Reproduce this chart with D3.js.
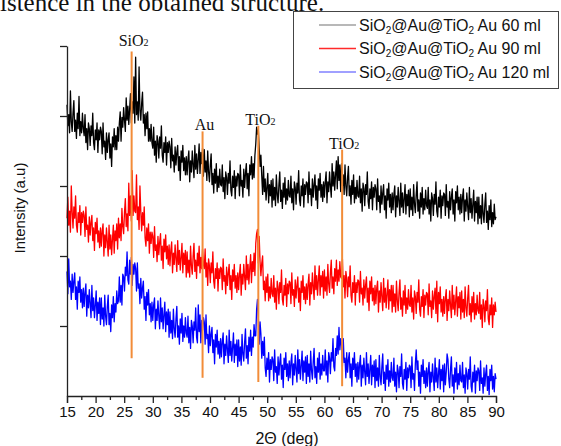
<!DOCTYPE html>
<html>
<head>
<meta charset="utf-8">
<script src="https://cdn.jsdelivr.net/npm/d3@7"></script>
<style>
  html, body { margin: 0; padding: 0; background: #fff; }
  svg { display: block; }
</style>
</head>
<body>
<svg id="chart" width="561" height="446"></svg>
<script>
// Scan range and step of the diffractograms (degrees 2-theta)
const thetaStart = 15;
const thetaStep = 0.15;

// Intensity (a.u.) per step, one row = 3 degrees
const au60 = [
  208,193,201,188,218,196,189,202,211,189,197,184,202,191,214,186,196,188,202,191,
  186,201,181,191,176,195,191,179,193,186,202,181,176,190,183,195,174,190,183,192,
  189,173,195,178,182,169,188,174,183,188,170,180,164,185,178,191,176,186,176,192,
  182,195,203,182,199,192,206,197,189,213,197,207,194,205,216,195,210,202,228,195,
  242,201,210,197,235,204,197,209,217,195,201,186,202,191,203,182,191,182,194,181,
  177,192,172,182,167,186,182,170,185,177,193,172,167,181,174,185,165,181,174,182,
  178,163,184,168,172,160,178,165,174,179,161,171,154,175,167,179,161,170,158,171,
  158,169,175,153,168,160,175,165,156,179,162,173,159,169,180,159,174,166,177,157,
  176,160,168,154,175,160,153,165,173,151,159,145,162,152,166,146,157,149,162,151,
  150,165,146,156,141,160,156,144,159,152,168,147,143,157,149,161,141,157,150,159,
  158,143,165,150,154,142,162,149,159,166,148,159,143,165,158,171,155,166,156,172,
  180,192,187,190,177,164,172,157,144,164,146,155,140,149,159,138,151,143,154,135,
  155,140,149,136,158,144,138,151,160,139,147,134,152,142,156,137,148,140,154,143,
  142,157,138,148,133,153,149,137,152,145,161,140,136,150,143,155,135,151,144,153,
  152,138,160,144,148,136,155,142,151,158,140,150,134,155,147,159,142,151,139,153,
  142,153,160,138,153,146,160,150,142,166,150,160,147,158,168,148,171,154,165,146,
  166,150,158,144,165,150,143,156,164,143,150,137,154,144,158,138,149,141,154,143,
  142,157,138,148,132,152,148,136,151,144,160,139,134,148,141,153,133,149,142,151,
  148,133,155,139,143,131,150,137,145,151,133,143,127,148,140,152,135,144,131,145,
  133,144,150,128,143,135,149,139,129,152,135,145,131,141,151,130,144,136,147,128,
  148,133,142,129,151,137,131,144,153,132,140,127,145,135,149,130,141,133,147,136,
  134,149,130,140,125,145,141,129,144,137,153,132,128,142,135,147,127,143,136,145,
  144,129,151,135,139,127,146,133,142,148,130,140,125,146,138,150,133,142,130,144,
  131,142,148,125,140,132,145,135,126,149,131,141,127,137,147,125,139,131,142,123,
  142,127,136,123,144,130,124,137,145,124,132,119,136,126,140,121,131,123,137,126,
  128
];
const au90 = [
  127,142,122,132,117,150,132,120,135,127,143,122,117,131,124,136,115,131,124,132,
  129,114,135,119,122,110,128,115,124,129,111,120,104,124,116,127,110,118,106,120,
  107,118,123,100,115,106,120,110,100,122,105,115,101,112,122,102,118,111,123,105,
  127,113,123,111,134,121,116,131,141,121,130,118,152,129,143,125,161,129,143,132,
  131,158,126,135,119,150,132,118,131,122,135,113,107,120,111,123,102,117,109,117,
  114,99,121,104,108,96,114,101,110,116,97,107,91,112,103,115,98,107,94,108,
  93,104,110,88,102,94,108,98,89,111,94,104,90,99,109,88,102,94,104,85,
  103,88,97,85,107,93,87,100,109,89,97,84,102,93,107,88,99,91,105,94,
  91,105,85,95,79,98,93,81,95,88,103,82,77,91,84,95,75,91,84,92,
  91,76,98,82,86,73,92,79,88,94,76,86,69,90,82,94,77,86,74,88,
  76,87,94,72,87,80,94,85,76,100,83,94,80,91,101,81,96,89,102,86,
  109,116,119,95,114,96,86,95,100,76,82,68,85,74,87,68,78,70,84,73,
  71,86,67,77,62,82,78,66,81,74,90,69,65,79,72,84,64,80,73,82,
  81,66,88,72,76,64,83,70,79,85,67,77,61,82,74,86,69,78,66,80,
  69,80,87,65,81,73,88,78,69,93,76,86,72,83,93,72,86,78,89,70,
  90,75,85,72,94,80,74,88,97,77,85,73,91,82,97,79,90,82,96,85,
  84,98,78,86,70,89,84,71,85,78,93,72,67,81,74,86,65,81,74,83,
  82,67,89,73,77,65,83,70,79,85,67,77,61,82,73,85,68,77,65,79,
  66,77,82,60,75,67,81,71,61,84,67,77,63,73,83,62,76,68,79,60,
  79,64,73,60,82,68,61,74,83,62,70,57,75,65,79,59,70,62,76,65,
  64,79,60,70,55,75,71,59,74,67,83,62,57,71,64,76,56,72,65,74,
  73,58,80,64,68,56,75,62,71,77,59,82,53,74,66,78,60,69,57,71,
  59,70,76,54,69,61,75,65,56,79,62,72,58,68,78,57,71,63,74,55,
  75,60,69,56,78,63,57,70,79,58,66,53,71,60,74,55,66,58,72,61,
  59,74,55,65,49,69,65,53,68,61,76,55,51,65,58,70,49,65,58,67,
  60
];
const au120 = [
  89,73,98,78,82,69,87,74,82,88,69,78,62,82,74,85,67,76,63,77,
  64,74,80,57,72,63,76,66,56,79,61,70,56,65,75,54,67,59,70,51,
  70,55,63,50,72,57,51,64,72,51,59,46,65,56,71,53,66,60,75,66,
  68,85,67,79,65,87,85,75,92,86,103,83,80,97,87,99,79,94,87,95,
  91,75,95,77,80,66,84,70,77,82,62,71,54,74,65,76,58,66,53,67,
  54,65,70,48,62,54,68,57,48,70,53,63,48,58,67,46,60,51,62,42,
  60,45,54,41,62,48,42,55,64,42,50,37,55,45,59,39,50,42,56,45,
  42,57,38,49,34,54,50,38,53,47,63,42,38,65,46,58,38,54,47,56,
  53,37,58,41,44,31,50,36,44,49,31,40,23,44,35,47,30,39,27,41,
  28,39,45,23,37,29,43,33,24,47,29,39,25,35,45,24,37,29,40,21,
  40,25,35,22,44,30,25,38,48,27,36,23,42,32,47,29,42,35,51,43,
  43,62,69,56,37,53,44,27,39,29,42,20,14,27,19,31,10,26,19,28,
  26,11,33,17,21,9,28,15,24,30,12,22,6,27,19,31,14,23,11,25,
  13,24,30,8,23,15,29,19,10,33,16,26,12,22,32,11,25,17,28,9,
  29,14,23,10,32,18,12,25,34,13,21,9,27,17,31,12,23,15,29,18,
  18,33,15,25,10,31,27,16,31,25,41,21,18,34,29,43,30,49,33,41,
  37,21,41,24,27,13,31,17,26,31,13,23,7,27,19,31,14,23,10,24,
  12,23,29,7,22,13,27,17,8,31,14,23,9,19,29,8,22,14,25,6,
  26,11,20,7,29,14,8,21,30,9,17,4,22,12,26,7,18,10,24,13,
  11,27,7,17,3,22,18,6,21,14,30,9,5,19,12,24,4,20,13,22,
  21,6,28,12,16,4,23,33,19,25,7,17,2,22,14,26,9,18,6,20,
  7,18,24,3,17,10,23,13,4,27,10,20,6,16,26,5,19,11,22,3,
  23,8,17,30,26,12,6,19,28,7,15,2,20,10,24,5,16,8,22,11,
  10,24,6,15,2,20,16,5,19,12,28,7,3,17,10,22,2,18,11,20,
  18,4,25,9,13,2,20,7,16,22,4,14,1,19,11,22,5,14,3,16,
  12
];

// Series names and colours
const seriesNames = ["60 ml", "90 ml", "120 ml"];
const seriesColors = ["#000000", "#ff0000", "#0000ff"];
const legendColors = ["#a0a0a0", "#ff2a2a", "#8080ff"];
const seriesValues = [au60, au90, au120];

// Reflection markers: 2-theta, phase, intensity span of the marker line
const peakTheta = [26.3, 38.7, 48.45, 63.1];
const peakPhase = ["SiO", "Au", "TiO", "TiO"];
const peakSub = ["2", "", "2", "2"];
const peakTop = [246, 189, 193, 176];
const peakBottom = [27, 13, 10, 7];

// Axis ticks
const xTicks = [15, 20, 25, 30, 35, 40, 45, 50, 55, 60, 65, 70, 75, 80, 85, 90];
const xMinorTicks = [17.5, 22.5, 27.5, 32.5, 37.5, 42.5, 47.5, 52.5, 57.5, 62.5, 67.5, 72.5, 77.5, 82.5, 87.5];
const yTicks = [50, 100, 150, 200, 250];

const svg = d3.select("#chart");

const plot = { left: 67, right: 496, top: 46, bottom: 396 };
const x = d3.scaleLinear().domain([15, 90]).range([plot.left, plot.right]);
const y = d3.scaleLinear().domain([0, 250]).range([plot.bottom, plot.top]);

// Scans
const line = d3.line()
  .x((d, i) => x(thetaStart + i * thetaStep))
  .y(d => y(d));
const scans = svg.append("g");
seriesValues.forEach((vals, k) => {
  scans.append("path")
    .datum(vals)
    .attr("d", line)
    .attr("fill", "none")
    .attr("stroke", seriesColors[k])
    .attr("stroke-width", 1.3)
    .attr("stroke-linejoin", "round");
});

// Marker lines and phase labels
const markers = svg.append("g");
peakTheta.forEach((t, i) => {
  markers.append("line")
    .attr("x1", x(t)).attr("x2", x(t))
    .attr("y1", y(peakTop[i])).attr("y2", y(peakBottom[i]))
    .attr("stroke", "#f28c38")
    .attr("stroke-width", 2);
  const lbl = markers.append("text")
    .attr("x", x(t) + 2)
    .attr("y", y(peakTop[i]) - (i === 0 ? 6 : 1))
    .attr("text-anchor", "middle")
    .attr("font-family", "'Liberation Serif', 'Times New Roman', serif")
    .attr("font-size", 16)
    .attr("fill", "#111");
  lbl.append("tspan").text(peakPhase[i]);
  if (peakSub[i]) lbl.append("tspan").attr("font-size", 10).text(peakSub[i]);
});

// Axes
const axisColor = "#222";
const gx = svg.append("g").attr("transform", `translate(0,${plot.bottom})`);
gx.call(d3.axisBottom(x).tickValues(xTicks).tickSize(7).tickPadding(3).tickFormat(d3.format("d")));
gx.append("g").call(d3.axisBottom(x).tickValues(xMinorTicks).tickSize(4).tickFormat(""))
  .select(".domain").remove();
gx.selectAll(".domain").attr("stroke", axisColor).attr("stroke-width", 1.3);
gx.selectAll(".tick line").attr("stroke", axisColor).attr("stroke-width", 1.3);
gx.selectAll(".tick text")
  .attr("font-family", "Arial, 'Liberation Sans', sans-serif")
  .attr("font-size", 15).attr("fill", "#111");

const gy = svg.append("g").attr("transform", `translate(${plot.left},0)`);
gy.call(d3.axisLeft(y).tickValues(yTicks).tickSize(7).tickFormat("").tickSizeOuter(0));
gy.selectAll(".domain").attr("stroke", axisColor).attr("stroke-width", 1.3);
gy.selectAll(".tick line").attr("stroke", axisColor).attr("stroke-width", 1.3);

// Axis titles
svg.append("text")
  .attr("x", 287).attr("y", 444)
  .attr("text-anchor", "middle")
  .attr("font-family", "Arial, 'Liberation Sans', sans-serif")
  .attr("font-size", 16).attr("fill", "#111")
  .text("2Θ (deg)");

svg.append("text")
  .attr("transform", "translate(25,208) rotate(-90)")
  .attr("text-anchor", "middle")
  .attr("font-family", "Arial, 'Liberation Sans', sans-serif")
  .attr("font-size", 15).attr("fill", "#111")
  .text("Intensity (a.u)");

// Legend
const legend = svg.append("g");
legend.append("rect")
  .attr("x", 293.5).attr("y", 11.5).attr("width", 265).attr("height", 77)
  .attr("fill", "#fff").attr("stroke", "#444").attr("stroke-width", 1);
seriesNames.forEach((name, i) => {
  const ly = 25 + i * 23.5;
  legend.append("line")
    .attr("x1", 319).attr("x2", 356).attr("y1", ly).attr("y2", ly)
    .attr("stroke", legendColors[i]).attr("stroke-width", 1.4);
  const t = legend.append("text")
    .attr("x", 359).attr("y", ly + 5.5)
    .attr("font-family", "Arial, 'Liberation Sans', sans-serif")
    .attr("font-size", 16).attr("fill", "#111");
  t.append("tspan").text("SiO");
  t.append("tspan").attr("font-size", 10).attr("dy", 3).text("2");
  t.append("tspan").attr("dy", -3).text("@Au@TiO");
  t.append("tspan").attr("font-size", 10).attr("dy", 3).text("2");
  t.append("tspan").attr("dy", -3).text(" Au " + name);
});

// Fragment of the surrounding page text
svg.append("text")
  .attr("x", 0).attr("y", 11)
  .attr("font-family", "'Liberation Serif', 'Times New Roman', serif")
  .attr("font-size", 25)
  .attr("fill", "#111")
  .text("istence in the obtained structure.");
</script>
</body>
</html>
